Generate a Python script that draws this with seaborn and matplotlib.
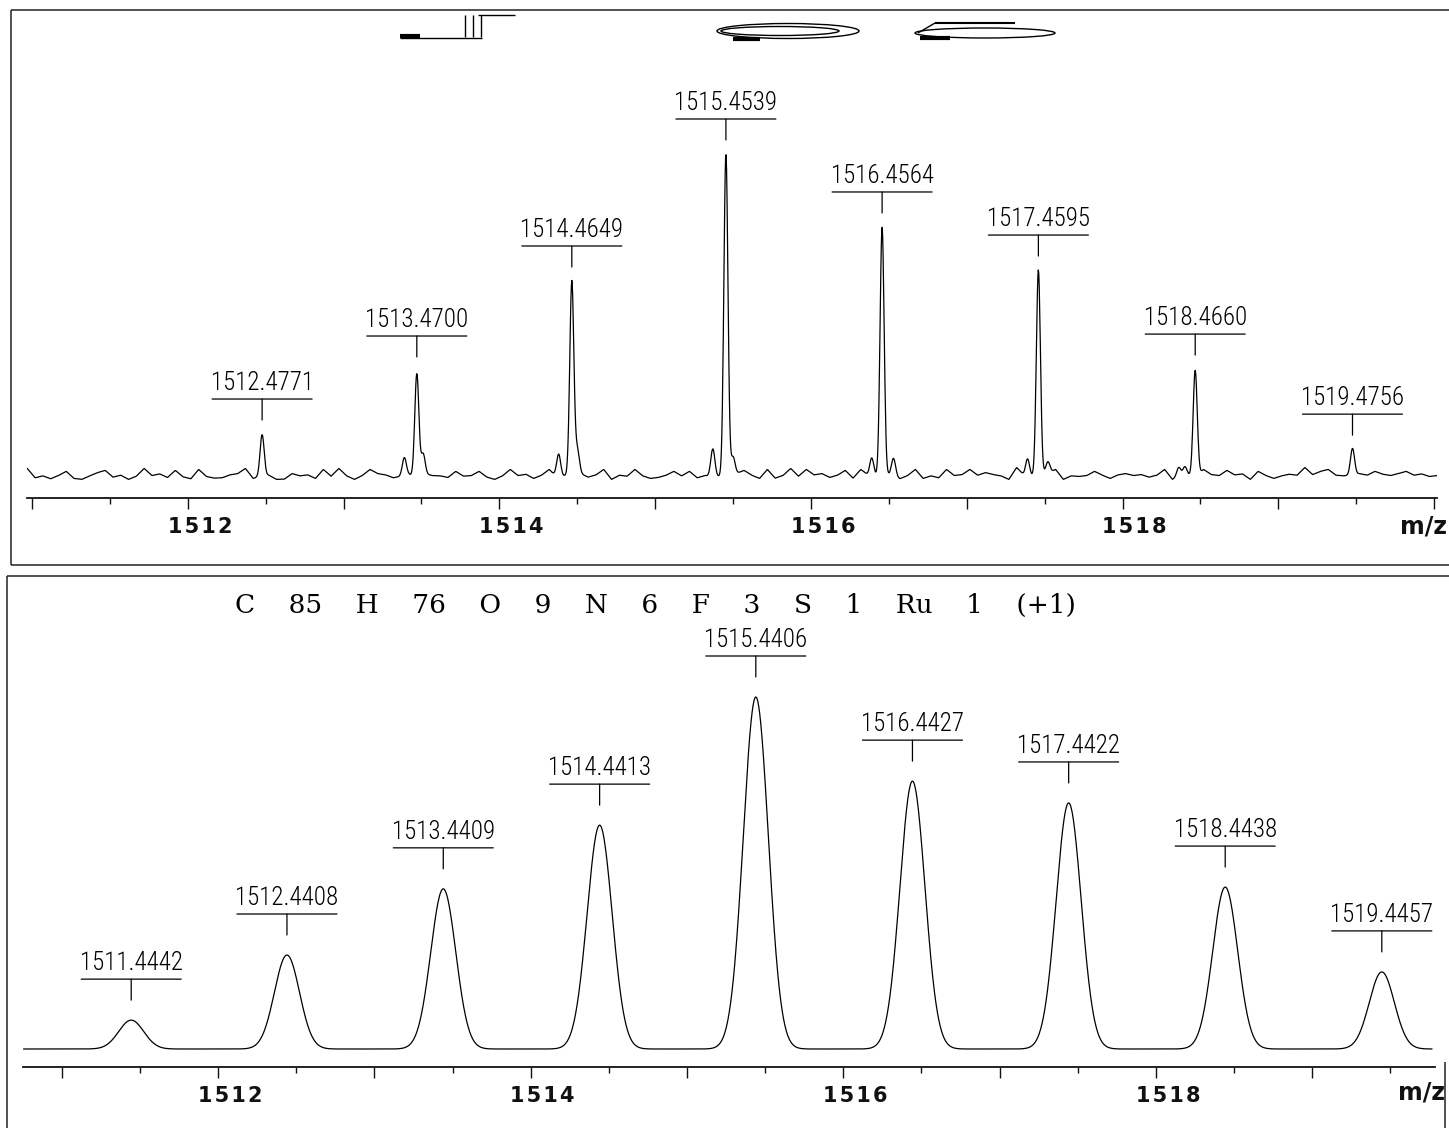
import numpy as np
import pandas as pd
import matplotlib
matplotlib.use("Agg")
import matplotlib.pyplot as plt
import matplotlib.font_manager as fm
from matplotlib.transforms import offset_copy, ScaledTranslation
from matplotlib.patches import Ellipse
from matplotlib.lines import Line2D
import seaborn as sns

# ---------------- data ----------------
exp_mz = [1512.4771, 1513.4700, 1514.4649, 1515.4539, 1516.4564, 1517.4595, 1518.4660, 1519.4756]
exp_int = [12.9, 32.5, 60.5, 100.0, 77.3, 63.9, 33.1, 8.2]
exp_labels = ["1512.4771", "1513.4700", "1514.4649", "1515.4539",
              "1516.4564", "1517.4595", "1518.4660", "1519.4756"]
exp_minor_mz = [1513.39, 1513.51, 1514.38, 1514.50, 1515.37, 1515.50,
                1516.39, 1516.53, 1517.39, 1517.52, 1518.36, 1518.40]
exp_minor_int = [5.6, 6.5, 7.2, 7.5, 8.7, 5.3, 5.6, 5.3, 5.3, 3.7, 2.8, 2.8]
exp_noise_start = 1510.97
exp_noise_step = 0.05
exp_noise = [2.5, -0.4, 0.2, -0.7, 0.3, 1.6, -0.6, -0.9, 0.2, 1.2,
             1.9, -0.2, 0.4, -0.9, 0.1, 2.5, 0.3, 0.8, -0.3, 1.9,
             -0.1, -0.7, 2.2, 0.0, -0.5, -0.4, 0.5, 0.9, 2.5, -0.6,
             0.1, 0.4, -0.9, -0.8, 0.9, 0.2, 0.5, -0.6, 2.2, 0.1,
             2.5, 0.2, -0.9, 0.3, 2.2, 0.9, 0.5, -0.4, 0.1, 0.6,
             -0.5, 0.8, 0.3, 0.2, -0.3, 1.6, 0.1, 0.3, 1.6, -0.2,
             -0.9, 0.2, 2.2, 0.3, 0.7, -0.6, 0.4, 2.2, -0.3, 0.2,
             0.3, 0.9, -0.2, 0.5, 2.2, -0.9, 0.4, 0.1, 2.2, 0.2,
             -0.6, -0.3, 0.4, 1.6, 0.2, 1.6, -0.4, 0.3, -0.1, 0.0,
             0.6, 0.9, 1.9, 0.4, -0.6, 2.2, -0.5, 0.3, 2.5, 0.1,
             2.2, 0.5, 0.9, -0.3, 0.4, 1.9, -0.5, 2.2, 0.3, 0.0,
             0.4, 0.6, -0.7, 0.3, 2.2, -0.6, 0.2, -0.4, 2.2, 0.3,
             0.6, 2.2, 0.4, 1.2, 0.6, 0.2, -0.9, 2.8, 0.3, 0.0,
             0.5, 0.9, 2.2, -0.9, 0.2, 0.0, 0.3, 1.6, 0.4, -0.6,
             0.5, 0.9, 0.3, 0.6, -0.2, 0.4, 2.2, -0.9, 0.2, 0.3,
             0.0, 2.2, 0.6, 0.3, 1.9, 0.5, 0.8, -0.9, 1.6, 0.3,
             -0.6, 0.2, 0.7, 0.4, 2.8, 0.6, 1.6, 2.2, 0.4, 0.2,
             0.5, 0.9, 0.4, 1.6, 0.7, 0.3, 0.9, 1.6, 0.4, 0.8,
             0.0, 0.3]

sim_mz = [1511.4442, 1512.4408, 1513.4409, 1514.4413, 1515.4406,
          1516.4427, 1517.4422, 1518.4438, 1519.4457]
sim_int = [8.2, 26.7, 45.5, 63.6, 100.0, 76.1, 69.9, 46.0, 21.9]
sim_labels = ["1511.4442", "1512.4408", "1513.4409", "1514.4413", "1515.4406",
              "1516.4427", "1517.4422", "1518.4438", "1519.4457"]
formula_tokens = ["C", "85", "H", "76", "O", "9", "N", "6", "F", "3",
                  "S", "1", "Ru", "1", "(+1)"]

tick_labels = ["1512", "1514", "1516", "1518"]
tick_label_pos = [1512, 1514, 1516, 1518]
exp_major = list(range(1511, 1521))
exp_minor = [1511.5, 1512.5, 1513.5, 1514.5, 1515.5, 1516.5, 1517.5, 1518.5, 1519.5]
sim_major = list(range(1511, 1520))
sim_minor = [1511.5, 1512.5, 1513.5, 1514.5, 1515.5, 1516.5, 1517.5, 1518.5, 1519.5]

# ---------------- layout / style ----------------
W, H = 1449, 1128
DPI = 100
sns.set_theme(style="white")
plt.rcParams["font.family"] = ["DejaVu Sans"]

names = {f.name for f in fm.fontManager.ttflist}
dv_cond = any(f.name == "DejaVu Sans" and "condensed" in str(f.stretch) for f in fm.fontManager.ttflist)
if "Liberation Sans Narrow" in names:
    label_font = dict(family="Liberation Sans Narrow", fontsize=18)
elif "Roboto Condensed" in names:
    label_font = dict(family="Roboto Condensed", fontsize=18, fontweight="light")
elif dv_cond:
    label_font = dict(family="DejaVu Sans", fontstretch="condensed", fontsize=15.5)
else:
    label_font = dict(family="Roboto", fontweight="light", fontsize=16)

fig = plt.figure(figsize=(W / DPI, H / DPI), dpi=DPI)
fig.patch.set_facecolor("white")


def ax_rect(left, right, bottom, top):
    return [left / W, 1 - bottom / H, (right - left) / W, (bottom - top) / H]


def L(xs, ys, lw=1.0, color="black"):
    fig.add_artist(Line2D([x / W for x in xs], [1 - y / H for y in ys],
                          transform=fig.transFigure, color=color, lw=lw,
                          solid_capstyle="butt"))


# panel frames
L([11, 1449], [10, 10], lw=1.1, color="#222222")
L([11, 11], [10, 565], lw=1.1, color="#222222")
L([11, 1449], [565, 565], lw=1.1, color="#222222")
L([7, 1449], [576, 576], lw=1.1, color="#222222")
L([7, 7], [576, 1128], lw=1.1, color="#222222")
L([1445, 1445], [1062, 1128], lw=1.1, color="#222222")

# experimental panel: axis line at y=498 px, baseline at 476.5 px, 3.215 px per unit
ax1 = fig.add_axes(ax_rect(27, 1437, 498, 10))
px1 = 3.215
ax2 = fig.add_axes(ax_rect(23, 1435, 1067, 576))
px2 = 3.52

# ---------------- curves ----------------
sig_exp = 0.013
sig_sim = 0.08

x1 = np.arange(1510.97, 1520.0201, 0.003)
noise_mz = exp_noise_start + exp_noise_step * np.arange(len(exp_noise))
y1 = np.interp(x1, noise_mz, exp_noise)
for m, h in zip(exp_mz + exp_minor_mz, exp_int + exp_minor_int):
    y1 = y1 + h * np.exp(-0.5 * ((x1 - m) / sig_exp) ** 2)
df1 = pd.DataFrame({"mz": x1, "intensity": y1})
sns.lineplot(data=df1, x="mz", y="intensity", ax=ax1, color="black", lw=0.9,
             estimator=None, sort=False)

x2 = np.arange(1510.755, 1519.77, 0.003)
y2 = np.zeros_like(x2)
for m, h in zip(sim_mz, sim_int):
    y2 = y2 + h * np.exp(-0.5 * ((x2 - m) / sig_sim) ** 2)
df2 = pd.DataFrame({"mz": x2, "intensity": y2})
sns.lineplot(data=df2, x="mz", y="intensity", ax=ax2, color="black", lw=0.9,
             estimator=None, sort=False)


# ---------------- axes styling ----------------
def style_axis(ax, major, minor, xlim, ylim):
    ax.set_xlabel("")
    ax.set_ylabel("")
    for s in ["top", "left", "right"]:
        ax.spines[s].set_visible(False)
    ax.spines["bottom"].set_linewidth(1.3)
    ax.spines["bottom"].set_color("#111111")
    ax.set_yticks([])
    ax.set_xticks(major)
    ax.set_xticks(minor, minor=True)
    ax.set_xticklabels(["\u200a".join(tick_labels[tick_label_pos.index(t)])
                        if t in tick_label_pos else "" for t in major])
    ax.set_xlim(*xlim)
    ax.set_ylim(*ylim)
    ax.tick_params(axis="x", which="major", direction="out", length=8, width=1.0,
                   color="#111111", pad=6, labelsize=15)
    ax.tick_params(axis="x", which="minor", direction="out", length=4.5, width=1.0,
                   color="#111111")
    ax.tick_params(axis="x", which="both", bottom=True)
    for lab in ax.get_xticklabels():
        lab.set_fontweight("bold")
        lab.set_color("#111111")
        lab.set_transform(lab.get_transform() + ScaledTranslation(12 / DPI, 0, fig.dpi_scale_trans))
    ax.patch.set_alpha(0)


style_axis(ax1, exp_major, exp_minor, (1510.968, 1520.018),
           (-(498 - 476.5) / px1, (476.5 - 10) / px1))
style_axis(ax2, sim_major, sim_minor, (1510.752, 1519.786),
           (-(1067 - 1049) / px2, (1049 - 576) / px2))

fig.text(1447 / W, 1 - 527 / H, "m/z", ha="right", va="center", fontsize=17,
         fontweight="bold", color="#111111")
fig.text(1445 / W, 1 - 1093 / H, "m/z", ha="right", va="center", fontsize=17,
         fontweight="bold", color="#111111")


# ---------------- peak labels ----------------
def label_peaks(ax, mzs, heights, labels, gap, ticklen):
    for m, h, lab in zip(mzs, heights, labels):
        base = offset_copy(ax.transData, fig=fig, x=0, y=gap, units="dots")
        ax.annotate("", xy=(m, h), xycoords=base, xytext=(0, ticklen),
                    textcoords="offset pixels",
                    arrowprops=dict(arrowstyle="-", lw=0.9, color="black",
                                    shrinkA=0, shrinkB=0))
        left = offset_copy(ax.transData, fig=fig, x=-50, y=gap + ticklen, units="dots")
        ax.annotate("", xy=(m, h), xycoords=left, xytext=(100, 0),
                    textcoords="offset pixels",
                    arrowprops=dict(arrowstyle="-", lw=0.9, color="black",
                                    shrinkA=0, shrinkB=0))
        ax.annotate(lab, xy=(m, h), xytext=(0, gap + ticklen + 4),
                    textcoords="offset pixels", ha="center", va="bottom",
                    color="black", annotation_clip=False, **label_font)


label_peaks(ax1, exp_mz, exp_int, exp_labels, gap=15, ticklen=21)
label_peaks(ax2, sim_mz, sim_int, sim_labels, gap=20, ticklen=21)

fig.text(655 / W, 1 - 605 / H, "    ".join(formula_tokens), ha="center", va="center",
         fontsize=19, family="DejaVu Serif", color="black")

# ---------------- header glyph remnants (top) ----------------
L([478, 515], [15, 15])
for xv in [465, 473, 481]:
    L([xv, xv], [15, 37])
L([400, 482], [38, 38])
L([400, 420], [36, 36], lw=3)
for (cx, cy, w, h) in [(788, 31, 142, 15), (780, 31, 118, 9), (985, 33, 140, 10)]:
    fig.add_artist(Ellipse((cx / W, 1 - cy / H), w / W, h / H, transform=fig.transFigure,
                           fill=False, ec="black", lw=1.0))
L([733, 760], [39, 39], lw=3)
L([935, 1015], [23, 23], lw=1.5)
L([918, 935], [33, 23], lw=1.0)
L([920, 950], [38, 38], lw=3)

fig.savefig("out.png", dpi=DPI, facecolor="white")
